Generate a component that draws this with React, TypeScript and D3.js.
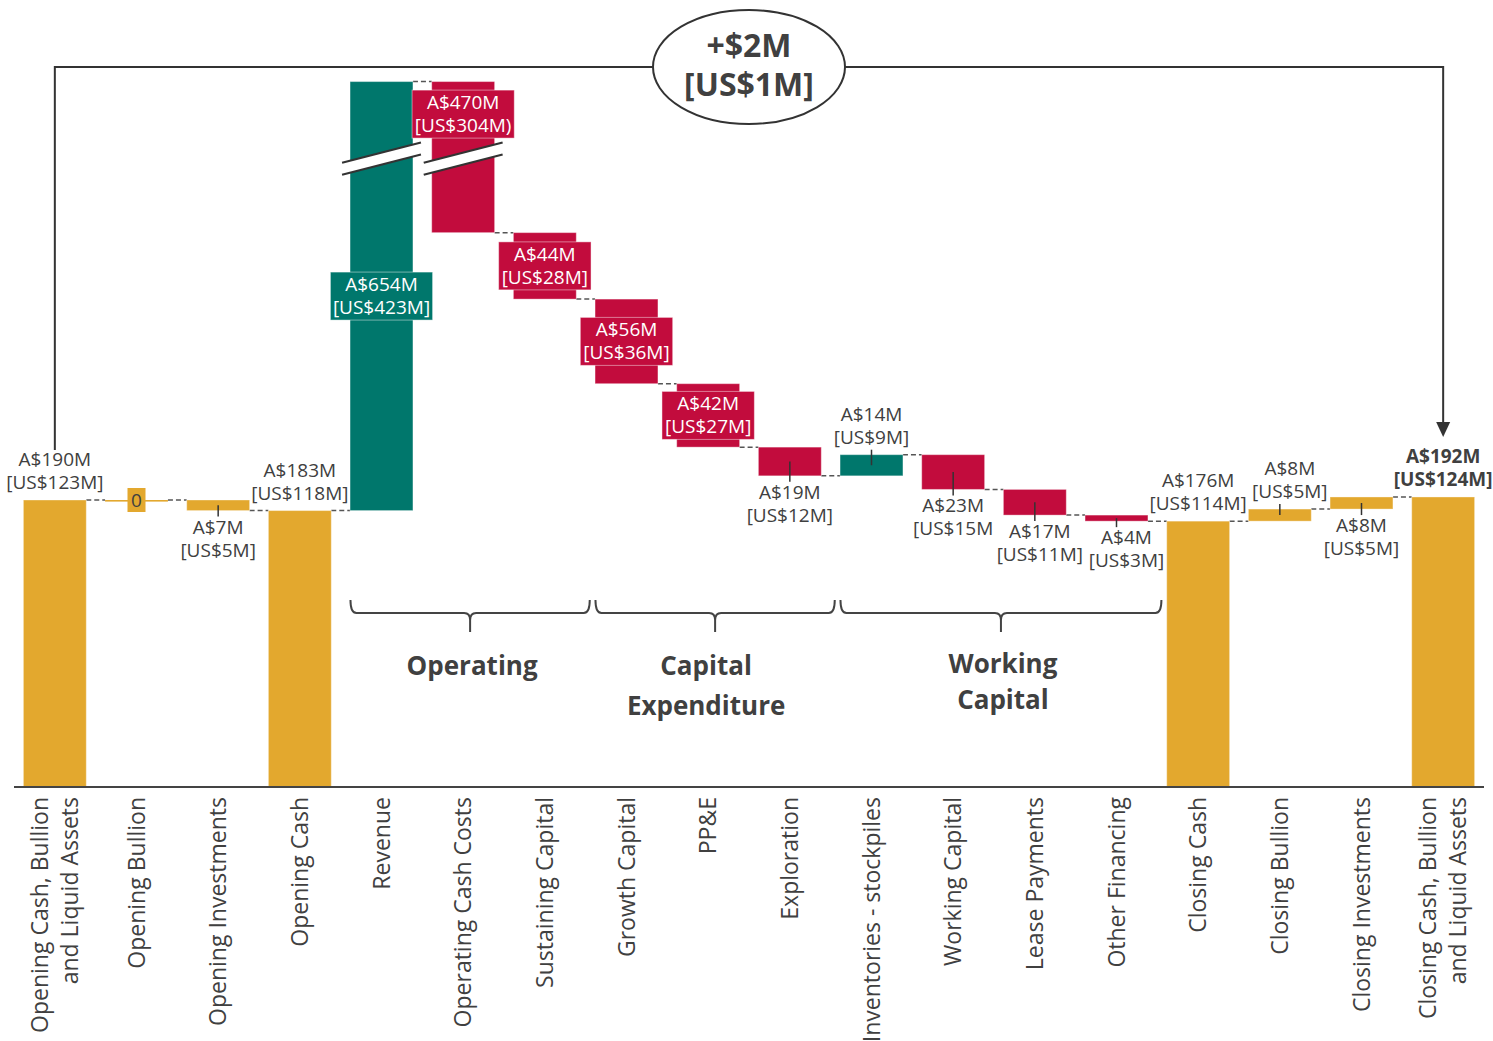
import React from "react";
import * as d3 from "d3";

const categories: string[][] = [
  ["Opening Cash, Bullion", "and Liquid Assets"],
  ["Opening Bullion"],
  ["Opening Investments"],
  ["Opening Cash"],
  ["Revenue"],
  ["Operating Cash Costs"],
  ["Sustaining Capital"],
  ["Growth Capital"],
  ["PP&E"],
  ["Exploration"],
  ["Inventories - stockpiles"],
  ["Working Capital"],
  ["Lease Payments"],
  ["Other Financing"],
  ["Closing Cash"],
  ["Closing Bullion"],
  ["Closing Investments"],
  ["Closing Cash, Bullion", "and Liquid Assets"],
];
const values = [190, 0, -7, 183, 654, -470, -44, -56, -42, -19, 14, -23, -17, -4, 176, 8, 8, 192];
const isTotal = [true, false, false, true, false, false, false, false, false, false, false, false, false, false, true, false, false, true];
const colorKind = ["hold", "hold", "hold", "hold", "flow", "flow", "flow", "flow", "flow", "flow", "flow", "flow", "flow", "flow", "hold", "hold", "hold", "hold"];
const audLabels = ["A$190M", "0", "A$7M", "A$183M", "A$654M", "A$470M", "A$44M", "A$56M", "A$42M", "A$19M", "A$14M", "A$23M", "A$17M", "A$4M", "A$176M", "A$8M", "A$8M", "A$192M"];
const usdLabels = ["[US$123M]", "", "[US$5M]", "[US$118M]", "[US$423M]", "[US$304M)", "[US$28M]", "[US$36M]", "[US$27M]", "[US$12M]", "[US$9M]", "[US$15M", "[US$11M]", "[US$3M]", "[US$114M]", "[US$5M]", "[US$5M]", "[US$124M]"];
const labelPos = ["above", "zero", "below", "above", "inside", "inside", "inside", "inside", "inside", "below", "above", "below", "below", "below", "above", "above", "below", "above"];
const labelShift = [0, 0, 0, 0, 0, 0, 0, 0, 0, 0, 0, 0, 5, 10, 0, 10, 0, 0];
const groups = [
  { name: ["Operating"], from: 4, to: 6, shift: 2 },
  { name: ["Capital", "Expenditure"], from: 7, to: 9, shift: -9 },
  { name: ["Working", "Capital"], from: 10, to: 13, shift: 2 },
];
const changeLabel = ["+$2M", "[US$1M]"];

// axis break: values above breakAbove are shifted down by breakGap
const breakAbove = 600;
const breakGap = 370;
const breakAt = 416;

const GOLD = "#E3A82E";
const TEAL = "#00776C";
const RED = "#C20C3D";
const TXT = "#404040";
const LINE = "#333333";
const FONT = "'Open Sans', sans-serif";

export default function App() {
  const W = 1493, H = 1041;
  const x = d3.scaleBand<number>().domain(d3.range(categories.length)).range([14, 1484]).paddingInner(0.23).paddingOuter(0.115);
  const y = d3.scaleLinear().domain([0, 190]).range([787, 500]);
  const disp = (v: number) => (v > breakAbove ? v - breakGap : v);
  const Y = (v: number) => y(disp(v));
  const bw = x.bandwidth();
  const step = x.step();
  const cx = (i: number) => (x(i) as number) + bw / 2;

  let running = 0;
  const bars = values.map((v, i) => {
    const start = isTotal[i] ? 0 : running;
    const end = isTotal[i] ? v : running + v;
    running = end;
    const color = colorKind[i] === "hold" ? GOLD : v >= 0 ? TEAL : RED;
    return { i, v, start, end, color };
  });

  const elems: React.ReactNode[] = [];

  // connectors
  bars.forEach((b, k) => {
    if (k === bars.length - 1) return;
    const yy = Y(b.end);
    elems.push(
      <line key={"c" + k} x1={(x(k) as number) + bw} x2={x(k + 1) as number} y1={yy} y2={yy}
        stroke="#555" strokeWidth={1.5} strokeDasharray="5,3" />
    );
  });

  // bars
  bars.forEach((b) => {
    const top = Math.min(Y(b.start), Y(b.end));
    const bot = Math.max(Y(b.start), Y(b.end));
    elems.push(
      <rect key={"b" + b.i} x={x(b.i)} y={top} width={bw} height={Math.max(bot - top, 1.6)}
        fill={b.color} stroke={b.v === 0 ? "none" : "rgba(255,255,255,0.35)"} strokeWidth={1} />
    );
  });

  // axis break marks
  const breakY = y(breakAt);
  const slope = -20 / 78;
  const gapH = 12;
  bars.forEach((b) => {
    const lo = Math.min(b.start, b.end), hi = Math.max(b.start, b.end);
    if (!(hi > breakAbove && lo < breakAt)) return;
    const x0 = (x(b.i) as number) - 8;
    const x1 = (x(b.i) as number) + bw + 8;
    const c = cx(b.i);
    const yAt = (xx: number, off: number) => breakY + off + (xx - c) * slope;
    const a = -gapH / 2, d = gapH / 2;
    elems.push(
      <g key={"br" + b.i}>
        <polygon points={`${x0},${yAt(x0, a)} ${x1},${yAt(x1, a)} ${x1},${yAt(x1, d)} ${x0},${yAt(x0, d)}`} fill="white" />
        <line x1={x0} y1={yAt(x0, a)} x2={x1} y2={yAt(x1, a)} stroke={LINE} strokeWidth={2.2} />
        <line x1={x0} y1={yAt(x0, d)} x2={x1} y2={yAt(x1, d)} stroke={LINE} strokeWidth={2.2} />
      </g>
    );
  });

  // value labels
  bars.forEach((b) => {
    const c = cx(b.i);
    const lc = c + labelShift[b.i];
    const top = Math.min(Y(b.start), Y(b.end));
    const bot = Math.max(Y(b.start), Y(b.end));
    const mid = (top + bot) / 2;
    const pos = labelPos[b.i];
    const bold = b.i === bars.length - 1;
    const fw = bold ? 700 : 400;
    if (pos === "zero") {
      elems.push(
        <g key={"l" + b.i}>
          <rect x={c - 9} y={top - 12} width={18} height={24} fill={GOLD} />
          <text x={c} y={top + 7} textAnchor="middle" fontSize={19} fill={TXT} fontFamily={FONT}>{audLabels[b.i]}</text>
        </g>
      );
    } else if (pos === "above") {
      const tick = !isTotal[b.i];
      elems.push(
        <g key={"l" + b.i}>
          {tick && <line x1={c} x2={c} y1={mid} y2={top - 5} stroke={LINE} strokeWidth={1.5} />}
          <text x={lc} y={top - 34} textAnchor="middle" fontSize={19} fill={TXT} fontWeight={fw} fontFamily={FONT}>{audLabels[b.i]}</text>
          <text x={lc} y={top - 11} textAnchor="middle" fontSize={19} fill={TXT} fontWeight={fw} fontFamily={FONT}>{usdLabels[b.i]}</text>
        </g>
      );
    } else if (pos === "below") {
      elems.push(
        <g key={"l" + b.i}>
          <line x1={c} x2={c} y1={mid} y2={bot + 6} stroke={LINE} strokeWidth={1.5} />
          <text x={lc} y={bot + 23} textAnchor="middle" fontSize={19} fill={TXT} fontFamily={FONT}>{audLabels[b.i]}</text>
          <text x={lc} y={bot + 46} textAnchor="middle" fontSize={19} fill={TXT} fontFamily={FONT}>{usdLabels[b.i]}</text>
        </g>
      );
    } else {
      // inside box; if the bar is broken, centre on the segment above the break
      const lo = Math.min(b.start, b.end), hi = Math.max(b.start, b.end);
      let cy = mid;
      if (hi > breakAbove && lo < breakAt && b.v < 0) cy = (top + breakY - gapH) / 2;
      const len = Math.max(audLabels[b.i].length, usdLabels[b.i].length);
      const boxW = len * 9.8 + 14;
      elems.push(
        <g key={"l" + b.i}>
          <rect x={c - boxW / 2} y={cy - 24} width={boxW} height={48} fill={b.color} stroke="rgba(255,255,255,0.45)" strokeWidth={1} />
          <text x={c} y={cy - 5} textAnchor="middle" fontSize={19} fill="white" fontFamily={FONT}>{audLabels[b.i]}</text>
          <text x={c} y={cy + 18} textAnchor="middle" fontSize={19} fill="white" fontFamily={FONT}>{usdLabels[b.i]}</text>
        </g>
      );
    }
  });

  // group braces
  groups.forEach((g, k) => {
    const x0 = cx(g.from) - step * 0.38;
    const x1 = cx(g.to) + step * 0.55;
    const m = (x0 + x1) / 2;
    const yT = 600, yB = 613;
    const d = `M${x0},${yT} Q${x0},${yB} ${x0 + 6},${yB} H${m - 6} Q${m},${yB} ${m},${yB + 7} V632 M${m},${yB + 7} Q${m},${yB} ${m + 6},${yB} H${x1 - 6} Q${x1},${yB} ${x1},${yT}`;
    elems.push(<path key={"g" + k} d={d} fill="none" stroke="#444" strokeWidth={2} />);
    const y0 = g.name.length > 1 && k === 2 ? 673 : 675;
    const lh = k === 2 ? 36 : 40;
    g.name.forEach((t, j) => {
      elems.push(
        <text key={"gt" + k + j} x={m + g.shift} y={y0 + j * lh} textAnchor="middle" fontSize={26} fontWeight={700} fill={TXT} fontFamily={FONT}>{t}</text>
      );
    });
  });

  // axis baseline
  elems.push(<line key="axis" x1={14} x2={1484} y1={787} y2={787} stroke="#444" strokeWidth={2} />);

  // category labels
  categories.forEach((lines, i) => {
    const c = cx(i);
    const n = lines.length;
    lines.forEach((t, j) => {
      const off = (j - (n - 1) / 2) * 30;
      elems.push(
        <text key={"cat" + i + "_" + j} transform={`translate(${c + off},797) rotate(-90)`} textAnchor="end" dy="0.36em"
          fontSize={23} fill={TXT} fontFamily={FONT}>{t}</text>
      );
    });
  });

  // top change annotation
  const first = cx(0), last = cx(bars.length - 1);
  const ey = 67, ecx = (first + last) / 2, erx = 96, ery = 57;
  const lastTop = Y(bars[bars.length - 1].end);
  elems.push(
    <g key="ann">
      <path d={`M${first},${Y(bars[0].end) - 50} V${ey} H${ecx - erx}`} fill="none" stroke={LINE} strokeWidth={2} />
      <path d={`M${ecx + erx},${ey} H${last} V${lastTop - 72}`} fill="none" stroke={LINE} strokeWidth={2} />
      <polygon points={`${last - 7},${lastTop - 75} ${last + 7},${lastTop - 75} ${last},${lastTop - 60}`} fill={LINE} />
      <ellipse cx={ecx} cy={ey} rx={erx} ry={ery} fill="white" stroke={LINE} strokeWidth={2} />
      <text x={ecx} y={ey - 10} textAnchor="middle" fontSize={32} fontWeight={700} fill={TXT} fontFamily={FONT}>{changeLabel[0]}</text>
      <text x={ecx} y={ey + 29} textAnchor="middle" fontSize={32} fontWeight={700} fill={TXT} fontFamily={FONT}>{changeLabel[1]}</text>
    </g>
  );

  return (
    <svg width={W} height={H} style={{ position: "absolute", left: 0, top: 0, background: "white" }}>
      {elems}
    </svg>
  );
}
